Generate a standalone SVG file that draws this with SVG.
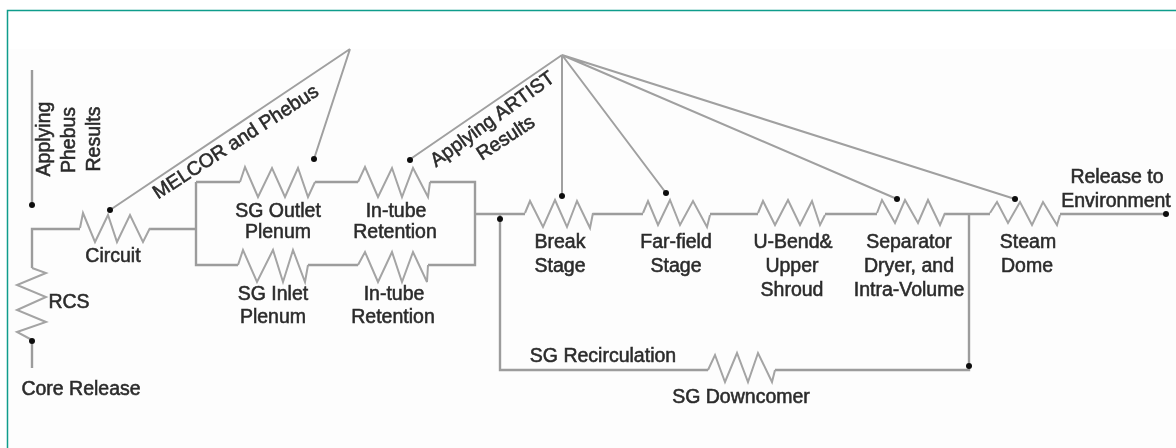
<svg xmlns="http://www.w3.org/2000/svg" width="1176" height="448" viewBox="0 0 1176 448">
<defs><filter id="soft" x="0" y="0" width="1176" height="448" filterUnits="userSpaceOnUse"><feGaussianBlur stdDeviation="0.75"/></filter></defs>
<style>
.c{fill:none;stroke:#9c9c9c;stroke-width:2.4}
.t{fill:none;stroke:#a0a0a0;stroke-width:2}
.z{fill:none;stroke:#a4a4a4;stroke-width:2}
.d{fill:#111}
text{font-family:"Liberation Sans",Arial,sans-serif;font-size:19.500px;fill:#2c2c2c;text-anchor:middle;stroke:#2c2c2c;stroke-width:.55}
</style>
<rect x="7.500" y="10.500" width="1170" height="440" fill="#fff" stroke="#0f9d8c" stroke-width="1.500"/>
<rect x="9" y="49" width="1167" height="399" fill="#fdfdfd"/>
<g filter="url(#soft)">
<g id="connectors">
<path class="c" d="M32 70V205M32 341V368M32 268V229H80M150 229H196M196 182V265H238M196 182H240M315 182H358M308 265H358M430 182H475V265H428M475 214H525M593 214H643M710 214H758M825 214H877M945 214H990M1060 214H1166M500 214V370H708M775 370H969V214"/>
<path class="t" d="M350 49L110 210M350 49L314 159M562 55L409 160M562 55V196M562 55L666 193M562 55L897 199M562 55L1015 199"/>
</g>
<g id="r-rcs"><path class="z" d="M32 268L46 273L17 285L46 297L17 310L46 322L17 332L32 340"/><circle class="d" cx="32" cy="341" r="3"/><circle class="d" cx="32" cy="205" r="3"/><text x="69" y="308">RCS</text><text x="81" y="395">Core Release</text><text transform="translate(50 139) rotate(-90)">Applying</text><text transform="translate(75 140) rotate(-90)">Phebus</text><text transform="translate(100 139) rotate(-90)">Results</text></g>
<g id="r-circuit"><path class="z" d="M80 228L83 213L95 242L108 215L117 242L130 215L143 242L150 228"/><circle class="d" cx="110" cy="210" r="3"/><text x="113" y="262">Circuit</text></g>
<g id="r-outlet"><path class="z" d="M240 182L245 167L258 197L272 168L285 197L298 168L308 197L315 182"/><circle class="d" cx="314" cy="159" r="3"/><text x="278" y="217">SG Outlet</text><text x="278" y="238">Plenum</text></g>
<g id="r-inlet"><path class="z" d="M238 265L243 250L257 282L273 250L283 282L293 250L305 282L308 265"/><text x="273" y="300">SG Inlet</text><text x="273" y="323">Plenum</text></g>
<g id="r-tube1"><path class="z" d="M358 182L365 167L378 197L392 168L402 197L413 168L428 197L430 182"/><circle class="d" cx="410" cy="160" r="3"/><text x="396" y="217">In-tube</text><text x="395" y="238">Retention</text></g>
<g id="r-tube2"><path class="z" d="M358 265L365 252L378 282L392 252L402 282L413 252L427 282L428 265"/><text x="394" y="300">In-tube</text><text x="393" y="323">Retention</text></g>
<g id="r-break"><path class="z" d="M525 213L530 201L543 227L555 200L567 227L577 201L590 228L593 213"/><circle class="d" cx="562" cy="196" r="3"/><text x="560" y="248">Break</text><text x="560" y="272">Stage</text></g>
<g id="r-far"><path class="z" d="M643 213L648 201L658 225L670 200L680 225L693 201L707 227L710 215"/><circle class="d" cx="666" cy="193" r="3"/><text x="676" y="248">Far-field</text><text x="676" y="272">Stage</text></g>
<g id="r-ubend"><path class="z" d="M758 213L763 201L775 225L788 200L800 225L812 201L820 225L825 215"/><text x="793" y="248">U-Bend&amp;</text><text x="792" y="272">Upper</text><text x="792" y="296">Shroud</text></g>
<g id="r-sep"><path class="z" d="M877 213L882 200L895 223L905 200L918 223L928 200L940 225L945 213"/><circle class="d" cx="897" cy="199" r="3"/><text x="909" y="248">Separator</text><text x="909" y="272">Dryer, and</text><text x="909" y="296">Intra-Volume</text></g>
<g id="r-dome"><path class="z" d="M990 213L997 202L1008 223L1020 202L1032 225L1043 202L1057 225L1060 215"/><circle class="d" cx="1015" cy="199" r="3"/><text x="1028" y="248">Steam</text><text x="1027" y="272">Dome</text></g>
<g id="r-downcomer"><path class="z" d="M708 370L715 355L725 382L737 353L748 382L758 353L772 382L775 370"/><circle class="d" cx="969" cy="366" r="3"/><circle class="d" cx="500" cy="219" r="3"/><text x="741" y="403">SG Downcomer</text><text x="603" y="362">SG Recirculation</text></g>
<g id="labels"><text transform="translate(239 147) rotate(-33)">MELCOR and Phebus</text><text transform="translate(496 124) rotate(-36)">Applying ARTIST</text><text transform="translate(509 143) rotate(-33)">Results</text><text x="1117" y="183">Release to</text><text x="1116" y="207">Environment</text><circle class="d" cx="1166" cy="214" r="3"/></g>
</g>
</svg>
